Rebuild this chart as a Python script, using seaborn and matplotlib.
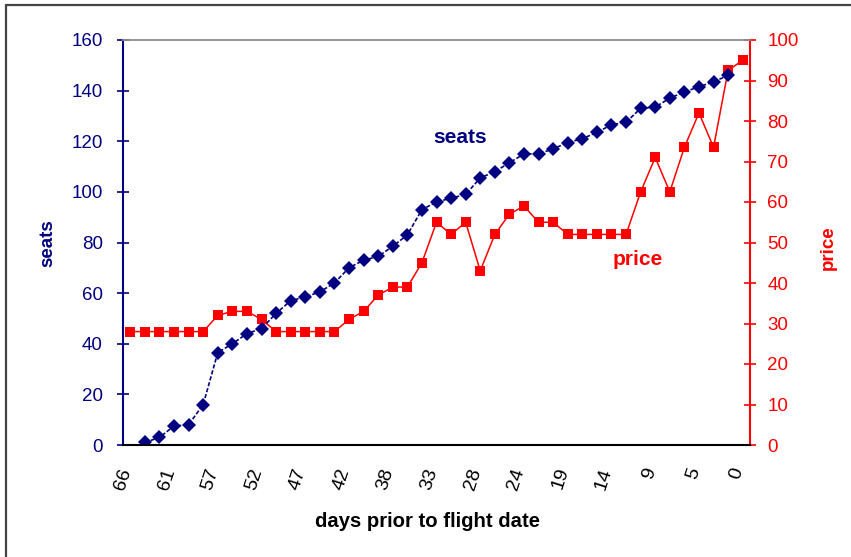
import numpy as np
import pandas as pd
import matplotlib
matplotlib.use("Agg")
import matplotlib.pyplot as plt
from matplotlib.lines import Line2D
from matplotlib.ticker import FixedLocator
from matplotlib.transforms import ScaledTranslation
import seaborn as sns

# Day labels shown under every third booking interval
day_labels = ["66", "61", "57", "52", "47", "42", "38", "33",
              "28", "24", "19", "14", "9", "5", "0"]

# Fare in each of the 43 booking intervals
price = [28, 28, 28, 28, 28, 28, 32, 33, 33, 31,
         28, 28, 28, 28, 28, 31, 33, 37, 39, 39,
         45, 55, 52, 55, 43, 52, 57, 59, 55, 55,
         52, 52, 52, 52, 52, 62.5, 71, 62.5, 73.5, 82,
         73.5, 92.5, 95]

# Cumulative seats sold (no count for the first and last interval)
seats = [1, 3, 7.5, 8, 16, 36.5, 40, 44, 46, 52,
         57, 58.5, 60.5, 64, 70, 73, 74.5, 78.5, 83, 93,
         96, 97.5, 99, 105.5, 108, 111.5, 115, 115, 117, 119.5,
         121, 123.5, 126.5, 127.5, 133, 133.5, 137, 139.5, 141.5, 143.5,
         146]

NAVY = "#000080"
RED = "#FF0000"

price_df = pd.DataFrame({"slot": np.arange(len(price)), "price": price})
seats_df = pd.DataFrame({"slot": np.arange(1, len(seats) + 1), "seats": seats})

sns.set_style("white")
plt.rcParams["font.family"] = ["Liberation Sans", "DejaVu Sans"]

W, H = 851, 557
fig = plt.figure(figsize=(W / 100, H / 100), dpi=100, facecolor="white")
ax = fig.add_axes([123 / W, 1 - 445 / H, 627 / W, 405 / H])
ax2 = ax.twinx()

sns.lineplot(data=price_df, x="slot", y="price", ax=ax2, color=RED,
             marker="s", markersize=7, markeredgewidth=0, linewidth=1.1)
sns.lineplot(data=seats_df, x="slot", y="seats", ax=ax, color=NAVY,
             marker="D", markersize=7.5, markeredgewidth=0, linewidth=1.2)
ax.lines[0].set_dashes([2.5, 1.2])

# seats series sits above the price series
ax.set_zorder(ax2.get_zorder() + 1)
ax.patch.set_visible(False)

ax.set_xlim(-0.5, len(price) - 0.5)
ax.set_ylim(0, 160)
ax2.set_ylim(0, 100)

# category axis: boundary ticks, labels on every third category
ax.xaxis.set_major_locator(FixedLocator(np.arange(0, len(price), 3)))
ax.set_xticklabels(day_labels, rotation=72, ha="right")
ax.xaxis.set_minor_locator(FixedLocator(np.arange(-0.5, len(price), 1)))
ax.tick_params(axis="x", which="major", length=0, pad=15, labelsize=14,
               labelcolor="black")
ax.tick_params(axis="x", which="minor", direction="inout", length=10,
               width=1.2, color="black")
shift = ScaledTranslation(4 / 100, 0, fig.dpi_scale_trans)
for lbl in ax.get_xticklabels():
    lbl.set_transform(lbl.get_transform() + shift)

ax.set_yticks(np.arange(0, 161, 20))
ax.tick_params(axis="y", direction="inout", length=9, width=1.2, color=NAVY,
               labelcolor=NAVY, labelsize=13.5, pad=10)
ax2.set_yticks(np.arange(0, 101, 10))
ax2.tick_params(axis="y", direction="inout", length=9, width=1.2, color=RED,
                labelcolor=RED, labelsize=13.5, pad=8)

for side in ("left", "right", "top", "bottom"):
    ax2.spines[side].set_visible(side == "right")
ax2.spines["right"].set_color(RED)
ax2.spines["right"].set_linewidth(1.5)
ax.spines["right"].set_visible(False)
ax.spines["left"].set_color(NAVY)
ax.spines["left"].set_linewidth(1.5)
ax.spines["bottom"].set_color("black")
ax.spines["bottom"].set_linewidth(1.5)
ax.spines["top"].set_color("#8c8c8c")
ax.spines["top"].set_linewidth(1.3)

ax.set_xlabel("days prior to flight date", fontsize=14.6, fontweight="bold",
              color="black")
ax.xaxis.set_label_coords(0.485, -0.188)
ax.xaxis.label.set_va("center")

ax.set_ylabel("seats", fontsize=13.5, fontweight="bold", color=NAVY,
              rotation=90)
ax.yaxis.set_label_coords(-0.1196, 0.499)
ax.yaxis.label.set_va("center")
ax.yaxis.label.set_ha("center")

ax2.set_ylabel("price", fontsize=13.5, fontweight="bold", color=RED,
               rotation=90)
ax2.yaxis.set_label_coords(1.1244, 0.486)
ax2.yaxis.label.set_va("center")
ax2.yaxis.label.set_ha("center")

ax.text(0.5375, 0.760, "seats", transform=ax.transAxes, ha="center",
        va="center", fontsize=15, fontweight="bold", color=NAVY)
ax.text(0.821, 0.457, "price", transform=ax.transAxes, ha="center",
        va="center", fontsize=15, fontweight="bold", color=RED)

# chart frame along the top and left edges
fig.add_artist(Line2D([6 / W, 1], [1 - 5 / H, 1 - 5 / H],
                      transform=fig.transFigure, color="#444444", lw=1.6))
fig.add_artist(Line2D([6 / W, 6 / W], [0, 1 - 5 / H],
                      transform=fig.transFigure, color="#444444", lw=1.6))

fig.savefig("out.png", dpi=100, facecolor="white")
